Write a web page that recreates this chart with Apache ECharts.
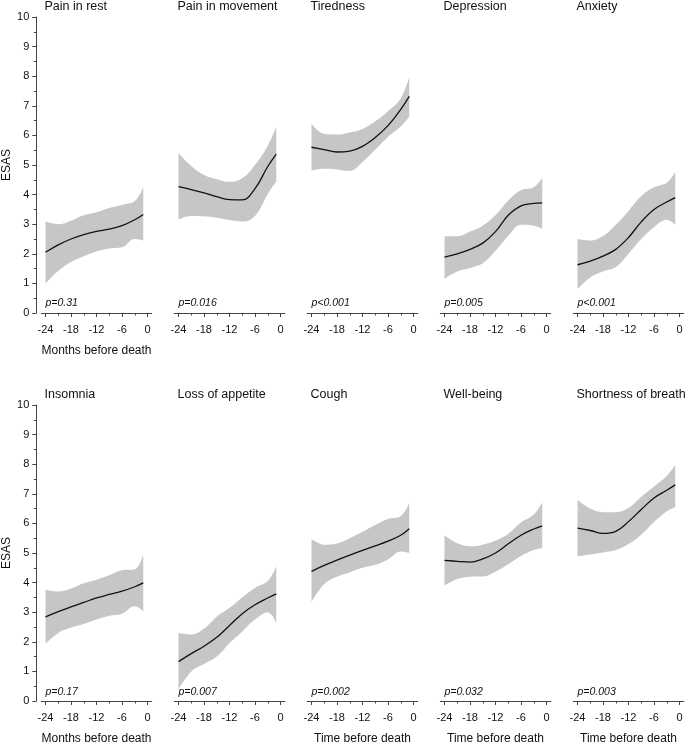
<!DOCTYPE html>
<html>
<head>
<meta charset="utf-8">
<script src="https://cdn.jsdelivr.net/npm/echarts@6.0.0/dist/echarts.min.js"></script>
<style>
  html, body { margin: 0; padding: 0; background: #fff; }
  #chart { width: 685px; height: 742px; }
</style>
</head>
<body>
<div id="chart"></div>
<script>
const months = [-24, -21, -18, -15, -12, -9, -6, -3, -1];
const xTicks = [-24, -18, -12, -6, 0];
const xMinorTicks = [-21, -15, -9, -3];

const symptoms = ['Pain in rest', 'Pain in movement', 'Tiredness', 'Depression', 'Anxiety',
  'Insomnia', 'Loss of appetite', 'Cough', 'Well-being', 'Shortness of breath'];
const pValues = ['p=0.31', 'p=0.016', 'p<0.001', 'p=0.005', 'p<0.001',
  'p=0.17', 'p=0.007', 'p=0.002', 'p=0.032', 'p=0.003'];
const xNames = ['Months before death', '', '', '', '',
  'Months before death', '', 'Time before death', 'Time before death', 'Time before death'];

// estimate, upper and lower limit of the band
const estPainRest = [2.05, 2.3, 2.5, 2.65, 2.76, 2.83, 2.95, 3.15, 3.33];
const upPainRest  = [3.1, 3.0, 3.12, 3.3, 3.4, 3.55, 3.65, 3.78, 4.25];
const loPainRest  = [1.0, 1.42, 1.72, 1.92, 2.08, 2.18, 2.22, 2.5, 2.45];

const estPainMove = [4.27, 4.17, 4.06, 3.93, 3.83, 3.82, 4.2, 4.95, 5.37];
const upPainMove  = [5.4, 4.97, 4.66, 4.52, 4.43, 4.55, 5.0, 5.65, 6.3];
const loPainMove  = [3.16, 3.28, 3.27, 3.22, 3.14, 3.09, 3.28, 4.02, 4.44];

const estTired = [5.6, 5.52, 5.44, 5.47, 5.63, 5.93, 6.33, 6.88, 7.32];
const upTired  = [6.39, 6.05, 6.03, 6.1, 6.22, 6.48, 6.82, 7.25, 7.97];
const loTired  = [4.81, 4.87, 4.85, 4.8, 5.1, 5.52, 5.95, 6.3, 6.64];

const estDepr = [1.89, 2.0, 2.15, 2.36, 2.75, 3.3, 3.62, 3.7, 3.72];
const upDepr  = [2.59, 2.59, 2.75, 2.95, 3.3, 3.8, 4.15, 4.25, 4.56];
const loDepr  = [1.15, 1.4, 1.52, 1.68, 2.1, 2.6, 2.98, 2.95, 2.84];

const estAnx = [1.63, 1.75, 1.92, 2.15, 2.55, 3.08, 3.5, 3.75, 3.9];
const upAnx  = [2.5, 2.45, 2.6, 2.98, 3.45, 3.95, 4.25, 4.4, 4.76];
const loAnx  = [0.81, 1.2, 1.4, 1.55, 2.0, 2.5, 2.9, 3.15, 2.98];

const estInsom = [2.84, 3.02, 3.18, 3.33, 3.48, 3.6, 3.71, 3.86, 3.99];
const upInsom  = [3.76, 3.7, 3.8, 3.98, 4.1, 4.25, 4.42, 4.45, 4.94];
const loInsom  = [1.94, 2.3, 2.48, 2.6, 2.75, 2.88, 2.95, 3.2, 3.03];

const estAppet = [1.33, 1.6, 1.85, 2.15, 2.55, 2.95, 3.25, 3.48, 3.62];
const upAppet  = [2.3, 2.25, 2.45, 2.85, 3.15, 3.5, 3.82, 4.05, 4.55];
const loAppet  = [0.39, 1.0, 1.25, 1.5, 1.95, 2.35, 2.75, 3.0, 2.64];

const estCough = [4.38, 4.58, 4.76, 4.93, 5.09, 5.24, 5.4, 5.6, 5.82];
const upCough  = [5.47, 5.28, 5.32, 5.5, 5.72, 5.95, 6.15, 6.25, 6.69];
const loCough  = [3.34, 3.95, 4.2, 4.35, 4.5, 4.6, 4.78, 5.05, 5.0];

const estWell = [4.75, 4.72, 4.69, 4.8, 5.0, 5.31, 5.6, 5.81, 5.92];
const upWell  = [5.6, 5.33, 5.23, 5.28, 5.42, 5.65, 6.03, 6.3, 6.71];
const loWell  = [3.9, 4.12, 4.2, 4.21, 4.37, 4.62, 4.9, 5.1, 5.17];

const estBreath = [5.84, 5.76, 5.66, 5.73, 6.06, 6.47, 6.86, 7.12, 7.3];
const upBreath  = [6.8, 6.5, 6.38, 6.38, 6.52, 6.9, 7.25, 7.6, 7.98];
const loBreath  = [4.89, 4.95, 5.02, 5.1, 5.3, 5.62, 6.05, 6.4, 6.55];

const panels = [
  [estPainRest, upPainRest, loPainRest],
  [estPainMove, upPainMove, loPainMove],
  [estTired, upTired, loTired],
  [estDepr, upDepr, loDepr],
  [estAnx, upAnx, loAnx],
  [estInsom, upInsom, loInsom],
  [estAppet, upAppet, loAppet],
  [estCough, upCough, loCough],
  [estWell, upWell, loWell],
  [estBreath, upBreath, loBreath]
];

// layout in pixels
const colX = [45.5, 178.5, 311.5, 444.5, 577.5];   // where -24 sits
const pxMonth = 4.25;
const rowTop = [17, 405];
const rowH = 296;

const font = 'Liberation Sans, Arial, sans-serif';
const ink = '#111';
const axisColor = '#444';
const bandColor = '#c6c6c6';

const chart = echarts.init(document.getElementById('chart'));

const grids = [], xAxes = [], yAxes = [], series = [], titles = [];

panels.forEach(function (p, i) {
  const col = i % 5, row = Math.floor(i / 5);
  grids.push({
    left: colX[col] - pxMonth, top: rowTop[row],
    width: 26 * pxMonth, height: rowH,
    outerBoundsMode: 'none', containLabel: false
  });

  // main x axis with labels
  xAxes.push({
    gridIndex: i, type: 'value', min: -25, max: 1, position: 'bottom', z: 5,
    axisLine: { show: true, onZero: false, lineStyle: { color: axisColor, width: 1 } },
    axisTick: { show: true, customValues: xTicks, length: 4, lineStyle: { color: axisColor } },
    axisLabel: { customValues: xTicks, fontSize: 11, color: ink, fontFamily: font, margin: 11 },
    splitLine: { show: false },
    name: xNames[i], nameLocation: 'middle', nameGap: 32,
    nameTextStyle: { fontSize: 12, color: ink, fontFamily: font }
  });
  // minor ticks every 3 months
  xAxes.push({
    gridIndex: i, type: 'value', min: -25, max: 1, position: 'bottom', z: 5,
    axisLine: { show: false, onZero: false },
    axisTick: { show: true, customValues: xMinorTicks, length: 2.5, lineStyle: { color: axisColor } },
    axisLabel: { show: false },
    splitLine: { show: false }
  });

  yAxes.push({
    gridIndex: i, type: 'value', min: 0, max: 10, interval: 1,
    show: col === 0, offset: 5, position: 'left', z: 5,
    axisLine: { show: true, onZero: false, lineStyle: { color: axisColor, width: 1 } },
    axisTick: { show: true, length: 4, lineStyle: { color: axisColor } },
    minorTick: { show: true, splitNumber: 2, length: 2.5, lineStyle: { color: axisColor } },
    axisLabel: { fontSize: 11, color: ink, fontFamily: font, margin: 7 },
    splitLine: { show: false },
    name: 'ESAS', nameLocation: 'middle', nameGap: 18,
    nameTextStyle: { fontSize: 12, color: ink, fontFamily: font }
  });

  const est = p[0], up = p[1], lo = p[2];
  const xIdx = i * 2;
  // band: lower limit stacked with the band width; value first so the stack goes on y
  series.push({
    type: 'line', xAxisIndex: xIdx, yAxisIndex: i, stack: 'band' + i,
    encode: { x: 1, y: 0 },
    data: months.map((m, k) => [lo[k], m]),
    smooth: 0.4, symbol: 'none', silent: true,
    lineStyle: { width: 0, opacity: 0 }
  });
  series.push({
    type: 'line', xAxisIndex: xIdx, yAxisIndex: i, stack: 'band' + i,
    encode: { x: 1, y: 0 },
    data: months.map((m, k) => [up[k] - lo[k], m]),
    smooth: 0.4, symbol: 'none', silent: true,
    lineStyle: { width: 0, opacity: 0 },
    areaStyle: { color: bandColor, opacity: 1 }
  });
  series.push({
    type: 'line', xAxisIndex: xIdx, yAxisIndex: i, z: 3,
    data: months.map((m, k) => [m, est[k]]),
    smooth: 0.4, symbol: 'none', silent: true,
    lineStyle: { color: ink, width: 1.3 }
  });

  titles.push({
    text: symptoms[i], left: colX[col] - 1, top: row === 0 ? 0 : 388, padding: 0,
    textStyle: { fontSize: 12.5, fontWeight: 'normal', color: ink, fontFamily: font }
  });
  titles.push({
    text: pValues[i], left: colX[col], top: row === 0 ? 298 : 687, padding: 0,
    textStyle: { fontSize: 10.5, fontWeight: 'normal', fontStyle: 'italic', color: ink, fontFamily: font }
  });
});

chart.setOption({
  animation: false,
  backgroundColor: '#fff',
  title: titles,
  grid: grids,
  xAxis: xAxes,
  yAxis: yAxes,
  series: series
});
</script>
</body>
</html>
